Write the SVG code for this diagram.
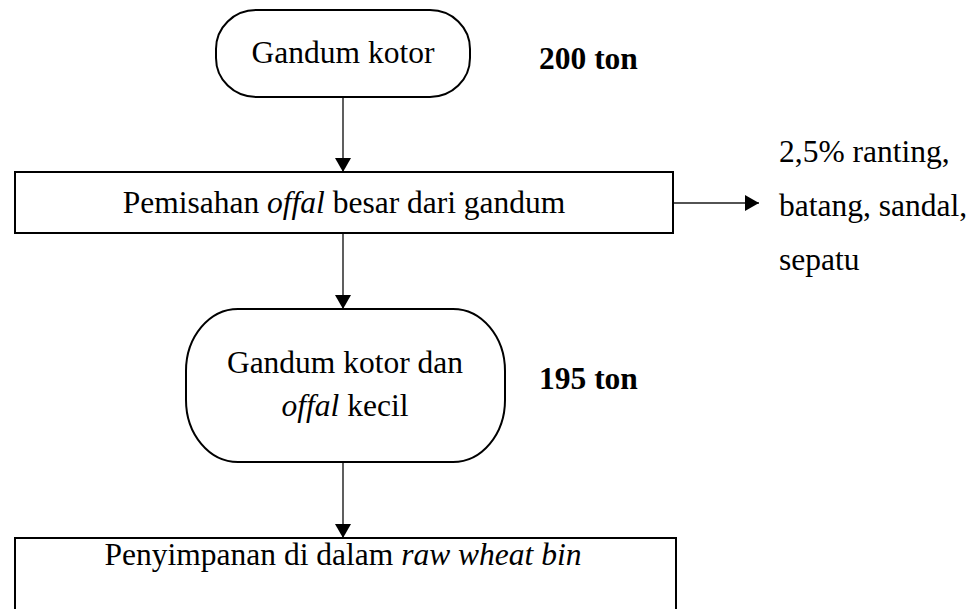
<svg xmlns="http://www.w3.org/2000/svg" width="979" height="609" viewBox="0 0 979 609">
  <style>
    .shape { fill: #ffffff; stroke: #000000; stroke-width: 2; }
    .conn { stroke: #1a1a1a; stroke-width: 1.4; fill: none; }
    .txt { font-family: "Liberation Serif", "Times New Roman", serif; font-size: 31.5px; fill: #000000; }
    .mid { text-anchor: middle; }
    .bold { font-weight: bold; }
    .it { font-style: italic; }
  </style>
  <defs>
    <marker id="arrow" viewBox="0 0 14 16" refX="14" refY="8" markerWidth="14" markerHeight="16" markerUnits="userSpaceOnUse" orient="auto">
      <path d="M0,0 L14,8 L0,16 Z" fill="#000000"/>
    </marker>
  </defs>

  <rect width="979" height="609" fill="#ffffff"/>

  <!-- connectors -->
  <g id="connectors">
    <line class="conn" x1="343" y1="97" x2="343" y2="172" marker-end="url(#arrow)"/>
    <line class="conn" x1="343" y1="233" x2="343" y2="309" marker-end="url(#arrow)"/>
    <line class="conn" x1="343" y1="462" x2="343" y2="538" marker-end="url(#arrow)"/>
    <line class="conn" x1="673" y1="203" x2="759" y2="203" marker-end="url(#arrow)"/>
  </g>

  <g id="node-gandum-kotor">
    <rect class="shape" x="216" y="10" width="254" height="87" rx="40" ry="39"/>
    <text class="txt mid" x="343" y="63">Gandum kotor</text>
  </g>

  <g id="label-200">
    <text class="txt bold" x="539" y="69">200 ton</text>
  </g>

  <g id="node-pemisahan">
    <rect class="shape" x="15" y="172" width="658" height="61"/>
    <text class="txt mid" x="344" y="213">Pemisahan <tspan class="it">offal</tspan> besar dari gandum</text>
  </g>

  <g id="node-buangan">
    <text class="txt" x="779" y="162">2,5% ranting,</text>
    <text class="txt" x="779" y="216">batang, sandal,</text>
    <text class="txt" x="779" y="270">sepatu</text>
  </g>

  <g id="node-gandum-offal">
    <rect class="shape" x="186" y="309" width="319" height="153" rx="52" ry="62"/>
    <text class="txt mid" x="345" y="373">Gandum kotor dan</text>
    <text class="txt mid" x="345" y="416"><tspan class="it">offal</tspan> kecil</text>
  </g>

  <g id="label-195">
    <text class="txt bold" x="539" y="389">195 ton</text>
  </g>

  <g id="node-penyimpanan">
    <rect class="shape" x="15" y="538" width="661" height="90"/>
    <text class="txt mid" x="343" y="565">Penyimpanan di dalam <tspan class="it">raw wheat bin</tspan></text>
  </g>
</svg>
